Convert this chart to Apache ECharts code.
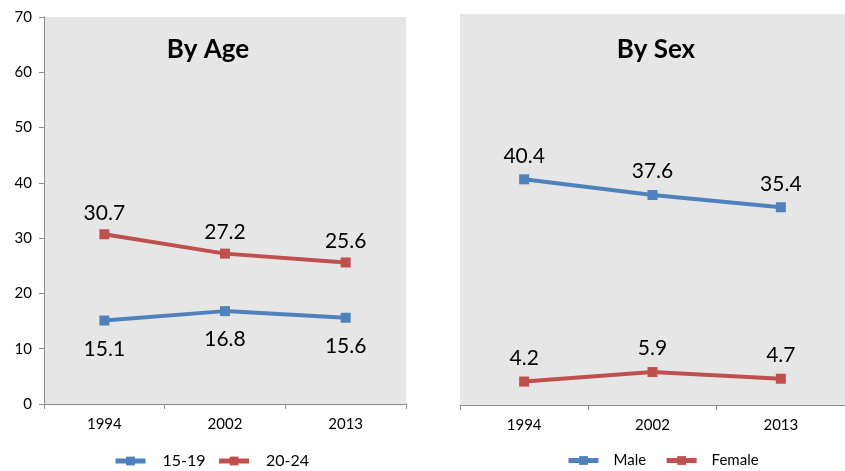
<!DOCTYPE html>
<html><head><meta charset="utf-8">
<script src="https://cdn.jsdelivr.net/npm/echarts@6/dist/echarts.min.js"></script>
<style>html,body{margin:0;padding:0;background:#fff}#c{width:845px;height:471px}</style>
</head><body><div id="c"></div>
<script>
const years = ['1994', '2002', '2013'];
const age1519 = [15.1, 16.8, 15.6];
const age2024 = [30.7, 27.2, 25.6];
const male = [40.4, 37.6, 35.4];
const female = [4.2, 5.9, 4.7];
const yTicks = [0, 10, 20, 30, 40, 50, 60, 70];

const BLUE = '#4F81BD', RED = '#C0504D';
const FONT = 'Lato, "Open Sans", sans-serif';
const chart = echarts.init(document.getElementById('c'));

function xAxis(gi) {
  return {
    type: 'category', gridIndex: gi, data: years, boundaryGap: true,
    axisLine: { lineStyle: { color: '#8c8c8c', width: 1 } },
    axisTick: { show: true, interval: 0, length: 5, lineStyle: { color: '#8c8c8c' } },
    axisLabel: { color: '#000', fontSize: 15, fontFamily: FONT, margin: 13 }
  };
}
function yAxis(gi, showLabels) {
  return {
    type: 'value', gridIndex: gi, min: yTicks[0], max: yTicks[yTicks.length - 1], interval: 10,
    splitLine: { show: false },
    axisLine: { show: showLabels, lineStyle: { color: '#8c8c8c' } },
    axisTick: { show: showLabels, length: 5, lineStyle: { color: '#8c8c8c' } },
    axisLabel: { show: showLabels, color: '#000', fontSize: 15, fontFamily: FONT, margin: 12 }
  };
}
function series(name, data, color, gi, pos, dist) {
  return {
    name, type: 'line', xAxisIndex: gi, yAxisIndex: gi, data,
    symbol: 'rect', symbolSize: 10,
    lineStyle: { color, width: 4 }, itemStyle: { color },
    label: { show: true, position: pos, distance: dist, color: '#000', fontSize: 21, fontFamily: FONT,
      formatter: p => p.value.toFixed(1) },
    animation: false
  };
}

chart.setOption({
  animation: false,
  title: [
    { text: 'By Age', left: 203, top: 32, textAlign: 'center',
      textStyle: { fontSize: 26, fontWeight: 'bold', fontFamily: FONT, color: '#000' } },
    { text: 'By Sex', left: 651, top: 32, textAlign: 'center',
      textStyle: { fontSize: 26, fontWeight: 'bold', fontFamily: FONT, color: '#000' } }
  ],
  grid: [
    { left: 44, top: 17, width: 362, height: 387, show: true, backgroundColor: '#e6e6e6', borderWidth: 0 },
    { left: 460, top: 14, width: 395, height: 391, show: true, backgroundColor: '#e6e6e6', borderWidth: 0 }
  ],
  xAxis: [xAxis(0), xAxis(1)],
  yAxis: [yAxis(0, true), yAxis(1, false)],
  legend: [
    { data: ['15-19', '20-24'], left: 113, top: 453, padding: 0, itemWidth: 30, itemHeight: 11, itemGap: 11,
      lineStyle: { width: 5 },
      textStyle: { fontSize: 16, fontFamily: FONT, color: '#000', padding: [0, 0, 0, 12] } },
    { data: ['Male', 'Female'], left: 566, top: 453, padding: 0, itemWidth: 30, itemHeight: 11, itemGap: 18,
      lineStyle: { width: 5 },
      textStyle: { fontSize: 15, fontFamily: FONT, color: '#000', padding: [0, 0, 0, 10] } }
  ],
  series: [
    series('15-19', age1519, BLUE, 0, 'bottom', 13),
    series('20-24', age2024, RED, 0, 'top', 6),
    series('Male', male, BLUE, 1, 'top', 8),
    series('Female', female, RED, 1, 'top', 8)
  ]
});
</script></body></html>
